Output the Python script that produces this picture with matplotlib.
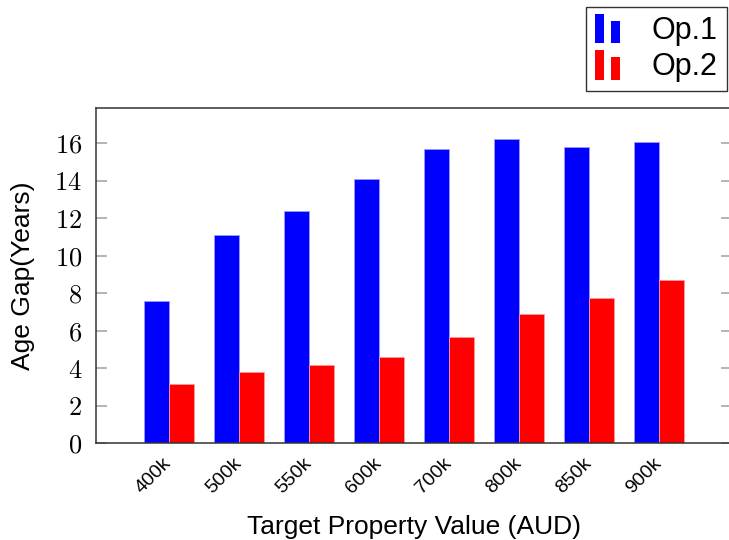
import matplotlib
matplotlib.use('Agg')
import matplotlib.pyplot as plt
import numpy as np
from matplotlib.patches import Rectangle
from matplotlib.container import BarContainer
from matplotlib.legend_handler import HandlerBase

plt.rcParams['mathtext.fontset'] = 'cm'
plt.rcParams['font.family'] = ['Liberation Sans', 'DejaVu Sans']

categories = ['400k', '500k', '550k', '600k', '700k', '800k', '850k', '900k']
op1 = [7.6, 11.1, 12.4, 14.1, 15.7, 16.25, 15.8, 16.1]
op2 = [3.15, 3.8, 4.15, 4.6, 5.65, 6.9, 7.75, 8.7]
yticks = [0, 2, 4, 6, 8, 10, 12, 14, 16]


class TwoBarHandler(HandlerBase):
    # legend glyph: two small bars like a pgfplots ybar legend
    def create_artists(self, legend, orig_handle, xdescent, ydescent,
                       width, height, fontsize, trans):
        c = orig_handle.patches[0].get_facecolor()
        w = width * 0.35
        y0 = -ydescent - 0.2 * height
        r1 = Rectangle((-xdescent, y0), w, height * 1.4,
                       facecolor=c, edgecolor='none', transform=trans)
        r2 = Rectangle((-xdescent + width * 0.65, y0), w, height * 1.05,
                       facecolor=c, edgecolor='none', transform=trans)
        return [r1, r2]


fig = plt.figure(figsize=(7.29, 5.40), dpi=100)
W, H = 729, 540
ax = fig.add_axes([96 / W, 1 - 443 / H, (732 - 96) / W, (443 - 108) / H])

x = np.arange(len(categories))
bw = 0.36
b1 = ax.bar(x - bw / 2, op1, bw, color='#0000ff', edgecolor='#9a9aff', linewidth=0.6, label='Op.1')
b2 = ax.bar(x + bw / 2, op2, bw, color='#ff0000', edgecolor='#ff9a9a', linewidth=0.6, label='Op.2')

ax.set_xlim(-1.04, len(categories) - 1 + 1.04)
ax.set_ylim(0, (443 - 108) / 18.72)

ax.set_yticks(yticks)
ax.set_yticklabels(['$%d$' % v for v in yticks], fontsize=19)
ax.tick_params(axis='y', direction='in', length=8, width=1.1, color='#a0a0a0',
               right=True, pad=10)
ax.set_xticks(x)
ax.set_xticklabels(categories, rotation=45, ha='right', va='center',
                   rotation_mode='anchor', fontsize=14)
ax.tick_params(axis='x', length=0, pad=13)

for s in ['left', 'top', 'bottom']:
    ax.spines[s].set_color('#333333')
    ax.spines[s].set_linewidth(1.1)
ax.spines['right'].set_visible(False)

ax.set_ylabel('Age Gap(Years)', fontsize=19, labelpad=14)
ax.set_xlabel('Target Property Value (AUD)', fontsize=19, labelpad=13)

leg = fig.legend(handles=[b1, b2], labels=['Op.1', 'Op.2'],
                 handler_map={BarContainer: TwoBarHandler()},
                 loc='upper left', bbox_to_anchor=(586 / W, 1 - 7 / H),
                 fontsize=22, frameon=True, fancybox=False, handlelength=0.8,
                 handletextpad=1.05, labelspacing=0.2, borderpad=0.3,
                 borderaxespad=0)
leg.get_frame().set_edgecolor('#000000')
leg.get_frame().set_linewidth(1.0)

fig.savefig('out.png', dpi=100)
